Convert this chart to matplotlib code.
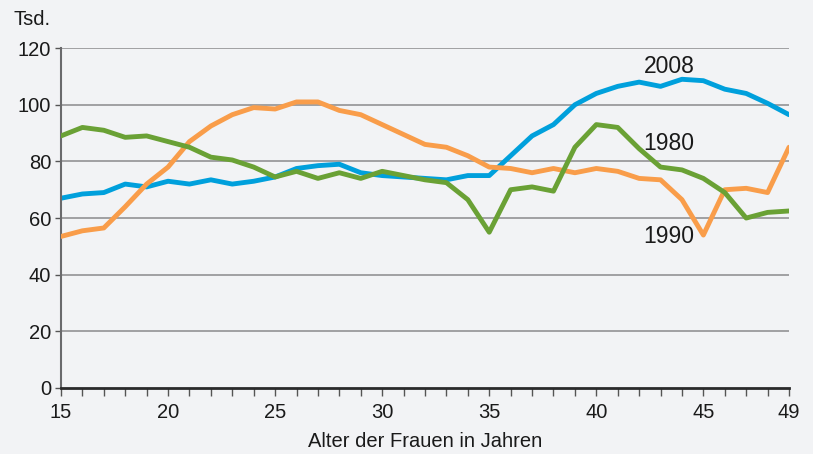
import matplotlib.pyplot as plt
import numpy as np

# Alter der Frauen (15..49), Geborene in Tsd.
ages = list(range(15, 50))

y2008 = [67, 68.5, 69, 72, 71, 73, 72, 73.5, 72, 73, 74.5, 77.5, 78.5, 79, 76,
         75, 74.5, 74, 73.5, 75, 75, 82, 89, 93, 100, 104, 106.5, 108, 106.5,
         109, 108.5, 105.5, 104, 100.5, 96.5]
y1980 = [89, 92, 91, 88.5, 89, 87, 85, 81.5, 80.5, 78, 74.5, 76.5, 74, 76, 74,
         76.5, 75, 73.5, 72.5, 66.5, 55, 70, 71, 69.5, 85, 93, 92, 84.5, 78,
         77, 74, 69, 60, 62, 62.5]
y1990 = [53.5, 55.5, 56.5, 64, 72, 78, 87, 92.5, 96.5, 99, 98.5, 101, 101, 98,
         96.5, 93, 89.5, 86, 85, 82, 78, 77.5, 76, 77.5, 76, 77.5, 76.5, 74,
         73.5, 66.5, 54, 70, 70.5, 69, 85]

x_labels = [15, 20, 25, 30, 35, 40, 45, 49]
y_ticks = [0, 20, 40, 60, 80, 100, 120]

bg = '#f2f3f5'
blue = '#00a0dc'
green = '#6aa135'
orange = '#f99d4a'

plt.rcParams['font.family'] = ['Liberation Sans', 'DejaVu Sans']

fig = plt.figure(figsize=(8.13, 4.54), dpi=100, facecolor=bg)
ax = fig.add_axes([0.075, 0.1454, 0.8955, 0.7486])
ax.set_facecolor(bg)

for y in y_ticks[1:]:
    ax.axhline(y, color='#9a9a9c', lw=1.3, zorder=1)

ax.plot(ages, y1990, color=orange, lw=3.5, solid_capstyle='round', zorder=3)
ax.plot(ages, y1980, color=green, lw=3.5, solid_capstyle='round', zorder=4)
ax.plot(ages, y2008, color=blue, lw=3.5, solid_capstyle='round', zorder=2)

ax.set_xlim(15, 49)
ax.set_ylim(0, 120)
ax.set_xticks(ages, minor=True)
ax.set_xticks(x_labels)
ax.set_yticks(y_ticks)

for s in ['top', 'right']:
    ax.spines[s].set_visible(False)
ax.spines['left'].set_color('#6a6a6c')
ax.spines['left'].set_linewidth(1.5)
ax.spines['bottom'].set_color('#2a2a2a')
ax.spines['bottom'].set_linewidth(2)
ax.spines['bottom'].set_zorder(5)

ax.tick_params(axis='x', which='both', direction='out', length=6, width=1,
               color='#555555', labelsize=14.5, pad=5, labelcolor='#1a1a1a')
ax.tick_params(axis='y', direction='out', length=4, width=1, color='#555555',
               labelsize=14.5, pad=3, labelcolor='#1a1a1a')

ax.set_xlabel('Alter der Frauen in Jahren', fontsize=14.5, color='#1a1a1a', labelpad=7)
fig.text(0.017, 0.957, 'Tsd.', fontsize=14.5, color='#1a1a1a', va='center')

ax.text(43.4, 113.6, '2008', fontsize=16.5, color='#1a1a1a', ha='center', va='center')
ax.text(43.4, 86.5, '1980', fontsize=16.5, color='#1a1a1a', ha='center', va='center')
ax.text(43.4, 53.6, '1990', fontsize=16.5, color='#1a1a1a', ha='center', va='center')

fig.savefig('out.png', dpi=100, facecolor=bg)
